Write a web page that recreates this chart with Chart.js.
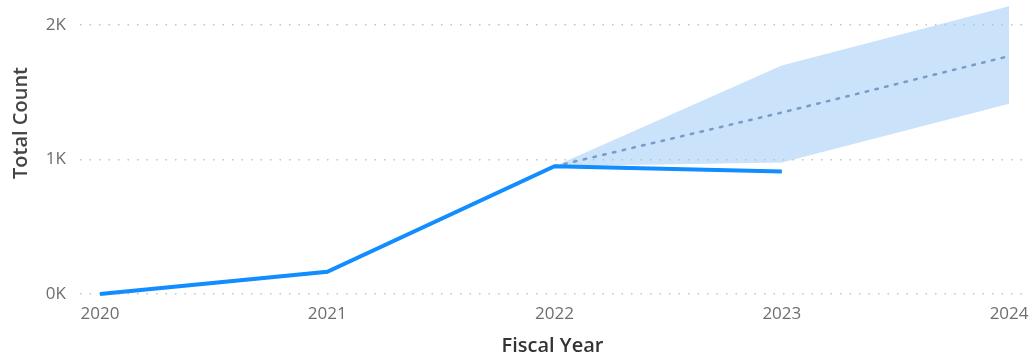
<!DOCTYPE html>
<html>
<head>
<meta charset="utf-8">
<script src="https://cdn.jsdelivr.net/npm/chart.js@4/dist/chart.umd.min.js"></script>
<style>
  html, body { margin: 0; padding: 0; background: #fff; }
  #wrap { width: 1036px; height: 362px; }
</style>
</head>
<body>
<div id="wrap"><canvas id="chart"></canvas></div>
<script>
const years = [2020, 2021, 2022, 2023];
const actual = [0, 165, 950, 912];
const forecastYears = [2022, 2023, 2024];
const forecast = [950, 1350, 1770];
const upper = [950, 1700, 2140];
const lower = [950, 978, 1415];
const yTicks = [0, 1000, 2000];
const xTicks = [2020, 2021, 2022, 2023, 2024];
const yTitle = "Total Count";
const xTitle = "Fiscal Year";

const toPoints = (xs, ys) => xs.map((x, i) => ({ x: x, y: ys[i] }));
const font = "'Open Sans', 'DejaVu Sans', sans-serif";

// y title sits a bit above the middle of the plot, like the original
const yTitlePlugin = {
  id: "yTitle",
  afterDraw: (chart) => {
    const ctx = chart.ctx;
    ctx.save();
    ctx.translate(21, 123);
    ctx.rotate(-Math.PI / 2);
    ctx.font = "600 20px " + font;
    ctx.fillStyle = "#444";
    ctx.textAlign = "center";
    ctx.textBaseline = "middle";
    ctx.fillText(yTitle, 0, 0);
    ctx.restore();
  },
};

new Chart(document.getElementById("chart"), {
  type: "line",
  data: {
    datasets: [
      {
        label: "Upper",
        data: toPoints(forecastYears, upper),
        borderWidth: 0,
        pointRadius: 0,
        backgroundColor: "rgba(150,198,245,0.5)",
        fill: "+1",
        order: 3,
      },
      {
        label: "Lower",
        data: toPoints(forecastYears, lower),
        borderWidth: 0,
        pointRadius: 0,
        fill: false,
        order: 3,
      },
      {
        label: "Forecast",
        data: toPoints(forecastYears, forecast),
        borderColor: "#7a9bc9",
        borderWidth: 2.5,
        borderDash: [2.5, 7.5],
        borderCapStyle: "round",
        pointRadius: 0,
        fill: false,
        order: 2,
      },
      {
        label: "Total Count",
        data: toPoints(years, actual),
        borderColor: "#118DFF",
        borderWidth: 4,
        pointRadius: 0,
        fill: false,
        order: 1,
      },
    ],
  },
  options: {
    responsive: true,
    maintainAspectRatio: false,
    animation: false,
    clip: false,
    layout: { padding: { top: 3, right: 11, left: 0, bottom: 0 } },
    plugins: {
      legend: { display: false },
      tooltip: { enabled: false },
    },
    scales: {
      x: {
        type: "linear",
        min: 2019.912,
        max: 2024.07,
        afterBuildTicks: (axis) => {
          axis.ticks = xTicks.map((v) => ({ value: v }));
        },
        afterFit: (axis) => {
          axis.height = 68;
          axis.paddingLeft = 0;
          axis.paddingRight = 0;
        },
        grid: { display: false },
        border: { display: false },
        ticks: {
          color: "#6e6e6e",
          font: { family: font, size: 17 },
          padding: 2,
          maxRotation: 0,
          callback: (v) => String(v),
        },
        title: {
          display: true,
          text: xTitle,
          color: "#333",
          font: { family: font, size: 20, weight: "600" },
          padding: { top: 0 },
        },
      },
      y: {
        min: 0,
        max: 2165,
        afterBuildTicks: (axis) => {
          axis.ticks = yTicks.map((v) => ({ value: v }));
        },
        afterFit: (axis) => {
          axis.width = 80;
          axis.paddingTop = 0;
          axis.paddingBottom = 0;
        },
        border: { display: false, dash: [1.5, 8] },
        grid: {
          color: "#c4c4c4",
          lineWidth: 1.5,
          drawTicks: false,
        },
        ticks: {
          color: "#6e6e6e",
          font: { family: font, size: 17 },
          padding: 14,
          callback: (v) => (v / 1000) + "K",
        },
        title: { display: false },
      },
    },
  },
  plugins: [yTitlePlugin],
});
</script>
</body>
</html>
